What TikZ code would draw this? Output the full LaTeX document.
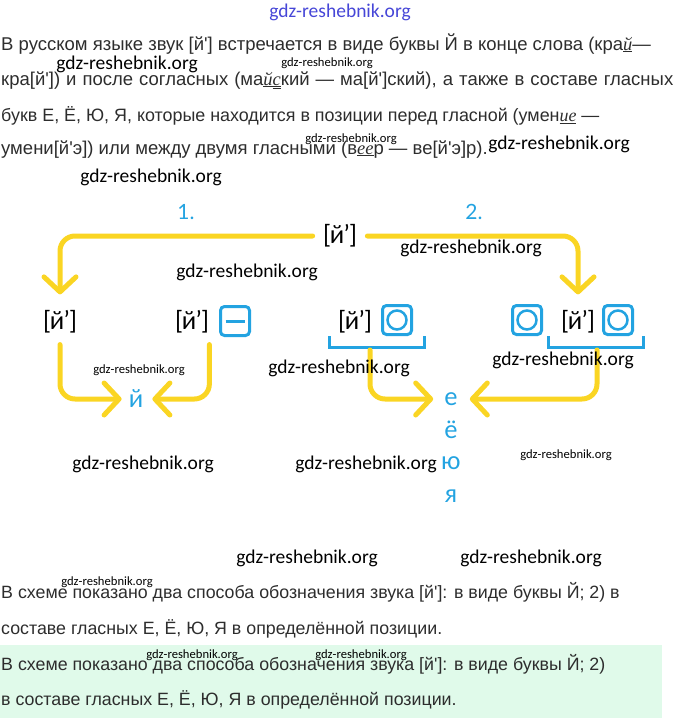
\documentclass[tikz,border=0pt]{standalone}
\usepackage{fontspec}
\newfontfamily\bodyfont{Liberation Sans}
\newfontfamily\cursfont{Liberation Serif}
\newfontfamily\schemefont{Lato}
\newfontfamily\markfont{Carlito}
\usepackage{tikz}
\usetikzlibrary{arrows.meta}
\definecolor{ink}{RGB}{45,45,45}
\definecolor{cYel}{RGB}{250,213,35}
\definecolor{cBlu}{RGB}{35,163,225}
\definecolor{mint}{RGB}{224,250,234}
\definecolor{wmBlu}{RGB}{70,70,215}
\tikzset{
  ar/.style={draw=cYel,line width=5pt,rounded corners=15pt,line cap=round,
    -{Straight Barb[length=15pt,width=32pt,line cap=round,line join=round]}},
  snd/.style={font=\schemefont\fontsize{25}{25}\selectfont,inner sep=0pt},
  ltr/.style={font=\schemefont\fontsize{25}{25}\selectfont,text=cBlu,inner sep=0pt},
  num/.style={font=\schemefont\fontsize{21}{21}\selectfont,text=cBlu,inner sep=0pt},
  vbox/.style={draw=cBlu,line width=3pt,rounded corners=4pt,minimum size=29pt,
    inner sep=0pt,fill=white},
  ring/.style={draw=cBlu,line width=2.5pt},
  brk/.style={draw=cBlu,line width=3pt},
  para/.style={anchor=base west,inner sep=0pt,text=ink,
    font=\bodyfont\fontsize{18.5}{20}\selectfont},
  paralow/.style={para,font=\bodyfont\fontsize{17.8}{20}\selectfont},
  wm/.style={font=\markfont\fontsize{19.5}{20}\selectfont,inner sep=0pt},
  wms/.style={font=\markfont\fontsize{12.6}{13}\selectfont,inner sep=0pt},
}
\newcommand{\cu}[1]{\underline{{\cursfont\itshape #1}}}

\begin{document}
\begin{tikzpicture}[x=1pt,y=-1pt]
  \useasboundingbox (0,0) rectangle (680,718);
  \fill[mint] (0,645) rectangle (662,718);
  % text above the scheme
  \node[para] (p1) at (1,50) {В русском языке звук [й'] встречается в виде буквы Й в конце слова (кра\cu{й}—};
  \node[para] (p2) at (1,85) {\makebox[672pt][s]{кра[й']) и после согласных (ма\cu{й}\underline{\underline{{\cursfont\itshape с}}}кий — ма[й']ский), а также в составе гласных}};
  \node[para,font=\bodyfont\fontsize{17.9}{20}\selectfont] (p3) at (1,121.5) {букв Е, Ё, Ю, Я, которые находится в позиции перед гласной (умен\cu{ие} —};
  \node[para] (p4) at (1,154) {умени[й'э]) или между двумя гласными (в\cu{ее}р — ве[й'э]р).};
  % scheme
  \node[num] (n1) at (186,212) {1.};
  \node[num] (n2) at (474,212) {2.};
  \node[snd] (T) at (340,236) {[й’]};
  \node[snd] (A1) at (60,322) {[й’]};
  \node[snd] (A2) at (192,322) {[й’]};
  \node[vbox] (b1) at (235,321) {};
  \draw[brk] ([xshift=-9.5pt]b1.center) -- ([xshift=9.5pt]b1.center);
  \node[snd] (A3) at (355,322) {[й’]};
  \node[vbox] (b2) at (397,320) {};
  \draw[ring] (b2.center) circle[radius=9.5pt];
  \node[vbox] (b3) at (527,320) {};
  \draw[ring] (b3.center) circle[radius=9.5pt];
  \node[snd] (A4) at (578,322) {[й’]};
  \node[vbox] (b4) at (618,320) {};
  \draw[ring] (b4.center) circle[radius=9.5pt];
  \draw[brk] (329,336) |- (424,347) -- (424,336);
  \draw[brk] (548,336) |- (643,347) -- (643,336);
  \coordinate (br1) at (370,347);
  \coordinate (br2) at (597,347);
  \node[ltr] (J) at (136,399) {й};
  \node[ltr] (E) at (451,399) {е};
  \node[ltr] (E2) at (451,430) {ё};
  \node[ltr] (Ju) at (451,463) {ю};
  \node[ltr] (Ja) at (451,496) {я};
  \draw[ar,shorten <=10pt,shorten >=16pt] (T.west) -| (A1.north);
  \draw[ar,shorten <=10pt,shorten >=16pt] (T.east) -| (A4.north);
  \draw[ar,shorten <=11pt,shorten >=7pt] (A1.south) |- (J.west);
  \draw[ar,shorten <=11pt,shorten >=9pt] (A2.south east) |- (J.east);
  \draw[ar,shorten <=3pt,shorten >=11pt] (br1) |- (E.west);
  \draw[ar,shorten <=3pt,shorten >=12pt] (br2) |- (E.east);
  % text below the scheme
  \node[paralow] (q1) at (1,598) {В схеме показано два способа обозначения звука [й']: в виде буквы Й; 2) в};
  \node[paralow] (q2) at (1,634) {составе гласных Е, Ё, Ю, Я в определённой позиции.};
  \node[paralow] (q3) at (1,670) {В схеме показано два способа обозначения звука [й']: в виде буквы Й; 2)};
  \node[paralow] (q4) at (1,705) {в составе гласных Е, Ё, Ю, Я в определённой позиции.};
  % watermarks
  \node[wm,text=wmBlu] (w0) at (340,12) {gdz-reshebnik.org};
  \foreach \x/\y [count=\i] in {127/64,559/144,151/177,247/272,471/248,339/368,
      563/360,143/464,366/464,307/558,531/558}
    \node[wm] (wl\i) at (\x,\y) {gdz-reshebnik.org};
  \foreach \x/\y [count=\i] in {327/63,351/139,139/370,566/455,107/582,192/655,361/655}
    \node[wms] (ws\i) at (\x,\y) {gdz-reshebnik.org};
\end{tikzpicture}
\end{document}
